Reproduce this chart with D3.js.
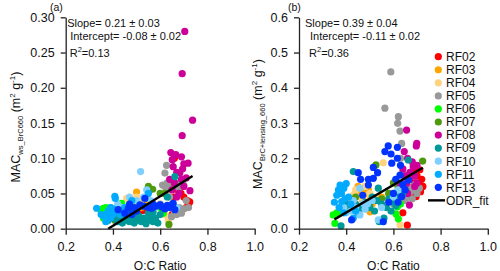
<!DOCTYPE html>
<html><head><meta charset="utf-8">
<script src="https://cdn.jsdelivr.net/npm/d3@7"></script>
<style>body{margin:0;background:#fff}svg{display:block;font-family:"Liberation Sans",Arial,sans-serif}</style>
</head><body>
<svg id="c" width="500" height="271"></svg>
<script>
const flights = ["RF02","RF03","RF04","RF05","RF06","RF07","RF08","RF09","RF10","RF11","RF13"];
const xTicks = [0.2,0.4,0.6,0.8,1.0];
const yTicksA = [0,0.05,0.10,0.15,0.20,0.25,0.30];
const yTicksB = [0,0.1,0.2,0.3,0.4,0.5,0.6];
const fitA = {slope:0.21, intercept:-0.08, xmin:0.38, xmax:0.737, txt:["Slope= 0.21 ± 0.03","Intercept= -0.08 ± 0.02","0.13"]};
const fitB = {slope:0.39, intercept:-0.11, xmin:0.35, xmax:0.725, txt:["Slope= 0.39 ± 0.04","Intercept= -0.11 ± 0.02","0.36"]};

// Panel (a): MAC_ws_BrC660 vs O:C
const rf02A=[[0.66,0.100],[0.688,0.05],[0.70,0.045],[0.715,0.040],[0.72,0.035],[0.71,0.030],[0.725,0.038],[0.683,0.065],[0.526,0.026],[0.542,0.036],[0.66,0.045],[0.675,0.055],[0.65,0.02]];
const rf03A=[[0.50,0.052],[0.54,0.042],[0.50,0.033],[0.48,0.038],[0.52,0.03],[0.46,0.03],[0.55,0.035],[0.44,0.025]];
const rf04A=[[0.458,0.043],[0.634,0.012],[0.62,0.02],[0.48,0.03],[0.50,0.045],[0.43,0.035],[0.52,0.04]];
const rf05A=[[0.627,0.09],[0.62,0.079],[0.61,0.062],[0.62,0.06],[0.63,0.065],[0.64,0.058],[0.65,0.062],[0.66,0.06],[0.67,0.064],[0.68,0.058],[0.69,0.06],[0.70,0.062],[0.64,0.045],[0.648,0.017],[0.66,0.025],[0.68,0.03],[0.70,0.028],[0.69,0.022],[0.67,0.02],[0.72,0.03],[0.60,0.035],[0.65,0.035],[0.71,0.04]];
const rf06A=[[0.359,0.029],[0.35,0.025],[0.365,0.02],[0.37,0.03],[0.38,0.022],[0.437,0.036],[0.39,0.03],[0.613,0.022],[0.60,0.03],[0.36,0.015]];
const rf07A=[[0.568,0.056],[0.60,0.05],[0.637,0.006],[0.408,0.012],[0.42,0.02],[0.55,0.06],[0.40,0.018],[0.62,0.05],[0.66,0.065],[0.61,0.03]];
const rf08A=[[0.704,0.28],[0.693,0.22],[0.737,0.154],[0.693,0.132],[0.645,0.108],[0.666,0.105],[0.651,0.098],[0.69,0.102],[0.655,0.088],[0.683,0.079],[0.70,0.092],[0.718,0.093],[0.726,0.054],[0.67,0.08],[0.69,0.07],[0.66,0.065],[0.70,0.06],[0.68,0.05],[0.71,0.072],[0.64,0.07],[0.67,0.045],[0.695,0.085],[0.65,0.055]];
const rf09A=[[0.662,0.074],[0.42,0.01],[0.43,0.015],[0.44,0.008],[0.45,0.012],[0.46,0.018],[0.47,0.01],[0.48,0.015],[0.49,0.008],[0.50,0.012],[0.51,0.018],[0.52,0.01],[0.53,0.015],[0.54,0.007],[0.55,0.012],[0.56,0.018],[0.57,0.01],[0.58,0.015],[0.59,0.008],[0.60,0.02],[0.45,0.022],[0.50,0.02],[0.55,0.022],[0.40,0.015],[0.38,0.012],[0.47,0.025],[0.57,0.024],[0.63,0.045]];
const rf10A=[[0.517,0.081],[0.543,0.055],[0.50,0.04],[0.67,0.03],[0.44,0.03],[0.47,0.045],[0.53,0.045],[0.42,0.035],[0.65,0.032],[0.56,0.04]];
const rf11A=[[0.331,0.029],[0.408,0.046],[0.41,0.043],[0.373,0.021],[0.36,0.018],[0.38,0.025],[0.39,0.03],[0.40,0.028],[0.42,0.025],[0.43,0.02],[0.37,0.01],[0.39,0.015],[0.45,0.03],[0.48,0.04],[0.55,0.05],[0.35,0.02],[0.40,0.02],[0.44,0.025]];
const rf13A=[[0.422,0.027],[0.465,0.029],[0.47,0.035],[0.49,0.03],[0.514,0.034],[0.535,0.043],[0.55,0.03],[0.564,0.029],[0.58,0.032],[0.60,0.034],[0.606,0.031],[0.62,0.028],[0.64,0.03],[0.655,0.036],[0.662,0.027],[0.45,0.022],[0.50,0.025],[0.53,0.032],[0.57,0.035],[0.63,0.033],[0.48,0.02]];

// Panel (b): MAC_BrC+lensing_660 vs O:C
const rf02B=[[0.659,0.01],[0.699,0.11],[0.696,0.091],[0.712,0.167],[0.72,0.14],[0.71,0.125],[0.69,0.13],[0.68,0.095],[0.70,0.15],[0.725,0.12],[0.715,0.105],[0.69,0.17],[0.64,0.045],[0.66,0.12]];
const rf03B=[[0.494,0.11],[0.48,0.10],[0.50,0.095],[0.46,0.105],[0.44,0.10],[0.501,0.048],[0.52,0.085],[0.47,0.08],[0.51,0.07],[0.43,0.065],[0.55,0.09],[0.49,0.06],[0.45,0.12],[0.42,0.08]];
const rf04B=[[0.557,0.187],[0.628,0.011],[0.44,0.11],[0.46,0.09],[0.48,0.12],[0.50,0.10],[0.52,0.08],[0.47,0.07],[0.43,0.095],[0.545,0.075],[0.50,0.085]];
const rf05B=[[0.589,0.445],[0.564,0.342],[0.621,0.318],[0.618,0.299],[0.628,0.277],[0.635,0.242],[0.63,0.2],[0.64,0.16],[0.65,0.14],[0.62,0.13],[0.66,0.12],[0.67,0.105],[0.64,0.1],[0.63,0.085],[0.65,0.08],[0.68,0.11],[0.70,0.1],[0.69,0.125],[0.62,0.11],[0.66,0.09],[0.61,0.095],[0.68,0.085],[0.71,0.115],[0.60,0.07]];
const rf06B=[[0.345,0.039],[0.352,0.015],[0.617,0.062],[0.611,0.042],[0.621,0.028],[0.40,0.055],[0.38,0.05],[0.36,0.045],[0.63,0.07]];
const rf07B=[[0.526,0.181],[0.724,0.192],[0.635,0.115],[0.44,0.09],[0.50,0.07],[0.58,0.1],[0.60,0.13],[0.42,0.06],[0.55,0.085],[0.66,0.15],[0.62,0.12]];
const rf08B=[[0.656,0.28],[0.699,0.242],[0.697,0.235],[0.646,0.219],[0.66,0.2],[0.684,0.176],[0.67,0.16],[0.656,0.129],[0.69,0.15],[0.668,0.067],[0.70,0.18],[0.68,0.19],[0.64,0.17],[0.65,0.15],[0.67,0.14],[0.69,0.12],[0.70,0.13],[0.63,0.12],[0.66,0.1]];
const rf09B=[[0.43,0.162],[0.536,0.115],[0.378,0.008],[0.663,0.195],[0.42,0.06],[0.44,0.07],[0.46,0.055],[0.48,0.075],[0.50,0.06],[0.52,0.05],[0.53,0.08],[0.55,0.07],[0.57,0.06],[0.58,0.085],[0.60,0.075],[0.62,0.09],[0.54,0.02],[0.56,0.03],[0.45,0.045],[0.59,0.05],[0.51,0.09],[0.47,0.065],[0.61,0.065],[0.64,0.1],[0.40,0.07]];
const rf10B=[[0.458,0.115],[0.473,0.072],[0.49,0.07],[0.51,0.08],[0.536,0.025],[0.458,0.039],[0.42,0.05],[0.44,0.06],[0.40,0.045],[0.39,0.06],[0.55,0.06],[0.62,0.11],[0.60,0.09],[0.48,0.055],[0.43,0.08]];
const rf11B=[[0.374,0.124],[0.40,0.128],[0.367,0.11],[0.39,0.115],[0.381,0.077],[0.41,0.09],[0.36,0.095],[0.38,0.1],[0.395,0.085],[0.42,0.07],[0.37,0.06],[0.44,0.05],[0.35,0.075],[0.43,0.03],[0.39,0.045]];
const rf13B=[[0.578,0.235],[0.617,0.231],[0.564,0.219],[0.59,0.212],[0.617,0.2],[0.593,0.186],[0.63,0.18],[0.515,0.174],[0.533,0.159],[0.494,0.14],[0.461,0.14],[0.451,0.159],[0.515,0.143],[0.494,0.124],[0.628,0.152],[0.663,0.138],[0.60,0.1],[0.635,0.091],[0.65,0.11],[0.423,0.025],[0.557,0.02],[0.61,0.14],[0.64,0.125],[0.58,0.075],[0.62,0.075],[0.47,0.095]];

const dataA=[rf02A,rf03A,rf04A,rf05A,rf06A,rf07A,rf08A,rf09A,rf10A,rf11A,rf13A];
const dataB=[rf02B,rf03B,rf04B,rf05B,rf06B,rf07B,rf08B,rf09B,rf10B,rf11B,rf13B];
const colors=["#ff0000","#ffa500","#ffd27f","#999999","#00ff00","#4d9a0c","#cc0099","#009999","#80d0ff","#00aaff","#0033ff"];

const svg=d3.select("#c");
const FS=12.5;

function panel(cfg){
  const {x,y,data,yTicks,fmt,fit,sub,yLabX,yLabY,plab,plabX,off}=cfg;
  const g=svg.append("g");
  data.forEach((arr,i)=>{
    g.append("g").selectAll("circle").data(arr).join("circle")
      .attr("cx",d=>x(d[0])).attr("cy",d=>y(d[1])).attr("r",3.6).attr("fill",colors[i]);
  });
  g.append("line").attr("x1",x(fit.xmin)).attr("y1",y(fit.slope*fit.xmin+fit.intercept))
    .attr("x2",x(fit.xmax)).attr("y2",y(fit.slope*fit.xmax+fit.intercept))
    .attr("stroke","#000").attr("stroke-width",2.4);
  const ax=g.append("g").attr("transform",`translate(0,${y(0)})`)
    .call(d3.axisBottom(x).tickValues(xTicks).tickFormat(d3.format(".1f")).tickSize(6).tickSizeOuter(0).tickPadding(7));
  const ay=g.append("g").attr("transform",`translate(${x(0.2)},0)`)
    .call(d3.axisLeft(y).tickValues(yTicks).tickFormat(fmt).tickSize(5).tickSizeOuter(0).tickPadding(6));
  [ax,ay].forEach(a=>{
    a.selectAll("path,line").attr("stroke","#222").attr("stroke-width",1.3);
    a.selectAll("text").attr("font-size",FS).attr("fill","#111").style("font-family","Liberation Sans, Arial, sans-serif");
  });
  g.append("text").attr("x",(x(0.2)+x(1.0))/2).attr("y",269.5).attr("text-anchor","middle")
    .attr("font-size",12).attr("fill","#111").text("O:C Ratio");
  const yl=g.append("text").attr("transform",`translate(${yLabX},${yLabY}) rotate(-90)`)
    .attr("text-anchor","middle").attr("font-size",12.5).attr("fill","#111");
  yl.append("tspan").text("MAC");
  yl.append("tspan").attr("font-size",7.5).attr("dy",3).text(sub);
  yl.append("tspan").attr("dy",-3).text(" (m");
  yl.append("tspan").attr("font-size",8).attr("dy",-5).text("2");
  yl.append("tspan").attr("dy",5).text(" g");
  yl.append("tspan").attr("font-size",8).attr("dy",-5).text("-1");
  yl.append("tspan").attr("dy",5).text(")");
  const x0=x(0.2);
  g.append("text").attr("x",x0+off[0]).attr("y",27).attr("font-size",11).attr("fill","#111").text(fit.txt[0]);
  g.append("text").attr("x",x0+off[1]).attr("y",40).attr("font-size",11).attr("fill","#111").text(fit.txt[1]);
  const r=g.append("text").attr("x",x0+off[2]).attr("y",57).attr("font-size",11).attr("fill","#111");
  r.append("tspan").text("R");
  r.append("tspan").attr("font-size",7.5).attr("dy",-5).text("2");
  r.append("tspan").attr("dy",5).text("="+fit.txt[2]);
  g.append("text").attr("x",plabX).attr("y",11).attr("font-size",10.5).attr("fill","#111").text(plab);
}

panel({x:d3.scaleLinear([0.2,1.0],[65.7,254.7]), y:d3.scaleLinear([0,0.30],[228.7,17.3]),
  data:dataA, yTicks:yTicksA, fmt:d3.format(".2f"), fit:fitA, sub:"ws_BrC660",
  yLabX:19.5, yLabY:127, plab:"(a)", plabX:50, off:[1.5,4.5,4]});
panel({x:d3.scaleLinear([0.2,1.0],[299,487.8]), y:d3.scaleLinear([0,0.6],[228.7,17.3]),
  data:dataB, yTicks:yTicksB, fmt:d3.format(".1f"), fit:fitB, sub:"BrC+lensing_660",
  yLabX:262, yLabY:124, plab:"(b)", plabX:288, off:[6,11,10]});

const lg=svg.append("g");
const ly=d3.scaleLinear([0,10],[56.7,187.3]);
flights.forEach((f,i)=>{
  lg.append("circle").attr("cx",438.3).attr("cy",ly(i)).attr("r",3.6).attr("fill",colors[i]);
  lg.append("text").attr("x",446).attr("y",ly(i)).attr("dy","0.36em").attr("font-size",12).attr("fill","#111").text(f);
});
lg.append("line").attr("x1",428).attr("x2",445).attr("y1",ly(11)).attr("y2",ly(11)).attr("stroke","#000").attr("stroke-width",2.4);
lg.append("text").attr("x",446).attr("y",ly(11)).attr("dy","0.36em").attr("font-size",12).attr("fill","#111").text("ODR_fit");
</script>
</body></html>
